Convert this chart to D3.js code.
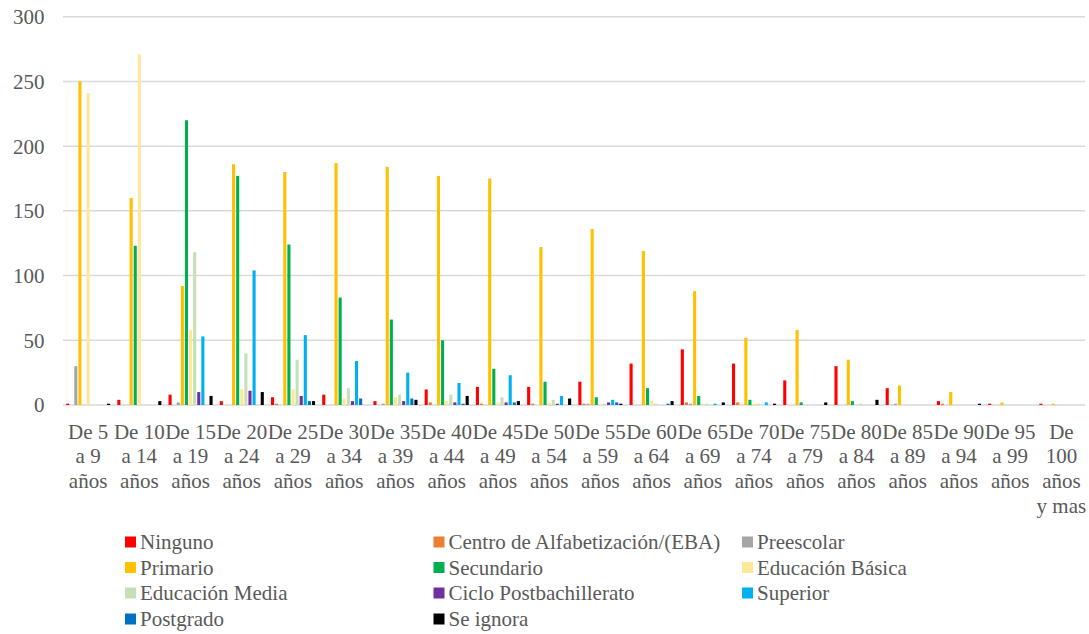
<!DOCTYPE html>
<html>
<head>
<meta charset="utf-8">
<script src="https://cdn.jsdelivr.net/npm/d3@7"></script>
</head>
<body style="margin:0;padding:0;background:#fff">
<svg id="chart" width="1089" height="634" style="display:block"></svg>
<script>
const categories = [
  "De 5 a 9 años", "De 10 a 14 años", "De 15 a 19 años", "De 20 a 24 años",
  "De 25 a 29 años", "De 30 a 34 años", "De 35 a 39 años", "De 40 a 44 años",
  "De 45 a 49 años", "De 50 a 54 años", "De 55 a 59 años", "De 60 a 64 años",
  "De 65 a 69 años", "De 70 a 74 años", "De 75 a 79 años", "De 80 a 84 años",
  "De 85 a 89 años", "De 90 a 94 años", "De 95 a 99 años", "De 100 años y mas"
];
const seriesNames = [
  "Ninguno", "Centro de Alfabetización/(EBA)", "Preescolar", "Primario",
  "Secundario", "Educación Básica", "Educación Media", "Ciclo Postbachillerato",
  "Superior", "Postgrado", "Se ignora"
];
const seriesColors = [
  "#FF0000", "#ED7D31", "#A5A5A5", "#FFC000", "#00B050", "#FFE699",
  "#C5E0B4", "#7030A0", "#00B0F0", "#0070C0", "#000000"
];
const ninguno      = [1, 4, 8, 3, 6, 8, 3, 12, 14, 14, 18, 32, 43, 32, 19, 30, 13, 3, 1, 1];
const centro       = [0, 0, 0, 0, 1, 0, 0, 2, 1, 1, 1, 0, 2, 2, 0, 0, 0, 1, 0, 0];
const preescolar   = [30, 0, 2, 0, 0, 0, 1, 0, 0, 0, 1, 0, 1, 0, 0, 0, 1, 0, 0, 0];
const primario     = [250, 160, 92, 186, 180, 187, 184, 177, 175, 122, 136, 119, 88, 52, 58, 35, 15, 10, 2, 1];
const secundario   = [0, 123, 220, 177, 124, 83, 66, 50, 28, 18, 6, 13, 7, 4, 2, 3, 0, 0, 0, 0];
const basica       = [241, 271, 58, 12, 12, 5, 6, 3, 2, 2, 1, 3, 1, 1, 0, 0, 0, 0, 0, 0];
const media        = [0, 0, 118, 40, 35, 13, 8, 8, 6, 4, 1, 1, 1, 1, 0, 1, 0, 0, 0, 0];
const ciclo        = [0, 0, 10, 11, 7, 3, 3, 2, 2, 1, 2, 0, 0, 0, 0, 0, 0, 0, 0, 0];
const superior     = [0, 0, 53, 104, 54, 34, 25, 17, 23, 7, 4, 0, 1, 2, 0, 0, 0, 0, 0, 0];
const postgrado    = [0, 0, 0, 0, 3, 5, 5, 1, 2, 0, 2, 1, 0, 0, 0, 0, 0, 0, 0, 0];
const seIgnora     = [1, 3, 7, 10, 3, 0, 4, 7, 3, 5, 1, 3, 2, 1, 2, 4, 0, 1, 0, 0];
const yTicks = [0, 50, 100, 150, 200, 250, 300];

const seriesValues = [ninguno, centro, preescolar, primario, secundario, basica,
  media, ciclo, superior, postgrado, seIgnora];

const FONT = "Liberation Serif";
const TXT = "#595959";

const svg = d3.select("#chart");
const plotLeft = 62.5, plotRight = 1087, plotTop = 16.7, plotBottom = 405;

const x0 = d3.scaleBand().domain(categories).range([plotLeft, plotRight])
  .paddingInner(0.12).paddingOuter(0.06);
const x1 = d3.scaleBand().domain(seriesNames).range([0, x0.bandwidth()]);
const y = d3.scaleLinear().domain([0, 300]).range([plotBottom, plotTop]);

// gridlines
svg.append("g").selectAll("line").data(yTicks).join("line")
  .attr("x1", 63).attr("x2", 1085)
  .attr("y1", d => y(d)).attr("y2", d => y(d))
  .attr("stroke", "#D9D9D9").attr("stroke-width", 1.5);

// y labels
const yAxis = d3.axisLeft(y).tickValues(yTicks).tickSize(0).tickPadding(0);
const yg = svg.append("g").attr("transform", "translate(44.5,0)").call(yAxis);
yg.select(".domain").remove();
yg.attr("font-family", FONT).attr("font-size", 21);
yg.selectAll("text")
  .style("font-family", FONT).style("font-size", "21px").style("fill", TXT)
  .attr("dy", "0.33em").attr("x", 0).attr("text-anchor", "end");

// bars
const groups = svg.append("g").selectAll("g").data(categories).join("g")
  .attr("transform", d => `translate(${x0(d)},0)`);
groups.selectAll("rect")
  .data((c, ci) => seriesNames.map((s, si) => ({ s, si, v: seriesValues[si][ci] })).filter(d => d.v > 0))
  .join("rect")
  .attr("x", d => x1(d.s) + 0.5)
  .attr("width", x1.bandwidth() - 1)
  .attr("y", d => y(d.v))
  .attr("height", d => y(0) - y(d.v))
  .attr("fill", d => seriesColors[d.si]);

// x labels
function splitLabel(c) {
  const m = c.match(/^De (\d+) a (\d+) años$/);
  if (m) return ["De " + m[1], "a " + m[2], "años"];
  const parts = c.split(" ");
  return [parts[0], parts[1], parts[2], parts.slice(3).join(" ")];
}
const xg = svg.append("g");
categories.forEach(c => {
  const cx = x0(c) + x0.bandwidth() / 2;
  splitLabel(c).forEach((line, i) => {
    xg.append("text")
      .attr("x", cx).attr("y", 438.7 + i * 24.6)
      .attr("text-anchor", "middle")
      .style("font-family", FONT).style("font-size", "21px").style("fill", TXT)
      .text(line);
  });
});

// legend
const colX = [125, 433.5, 742];
const rowY = [542, 567.5, 593, 619];
const lg = svg.append("g");
seriesNames.forEach((s, i) => {
  const col = i % 3, row = Math.floor(i / 3);
  lg.append("rect").attr("x", colX[col]).attr("y", rowY[row] - 5.5)
    .attr("width", 11).attr("height", 11).attr("fill", seriesColors[i]);
  lg.append("text").attr("x", colX[col] + 15).attr("y", rowY[row] + 7)
    .style("font-family", FONT).style("font-size", "21px").style("fill", TXT)
    .text(s);
});
</script>
</body>
</html>
